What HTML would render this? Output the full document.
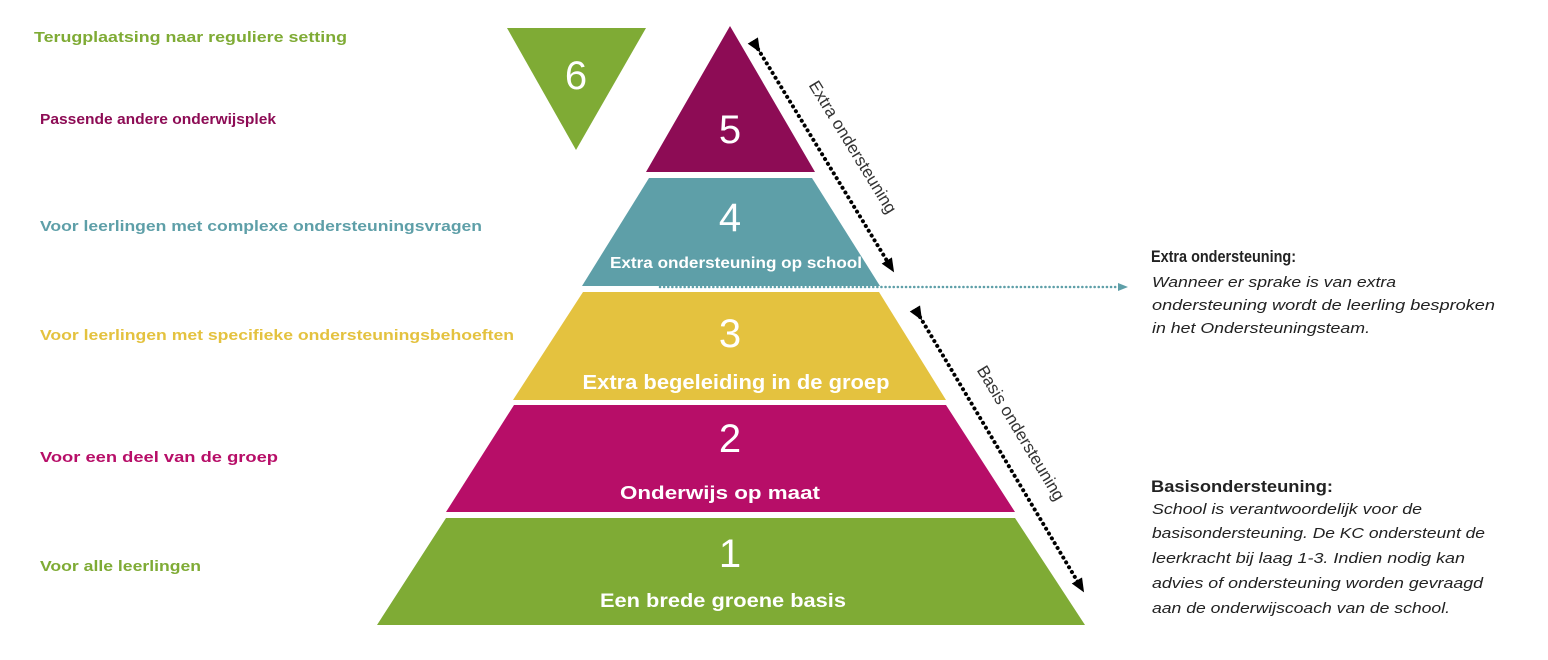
<!DOCTYPE html>
<html><head><meta charset="utf-8"><style>
body{margin:0;background:#fff;}
svg{display:block;}
</style></head><body>
<svg width="1548" height="660" viewBox="0 0 1548 660" xmlns="http://www.w3.org/2000/svg" font-family="Liberation Sans, DejaVu Sans, sans-serif">
<defs>
<marker id="ah2" markerWidth="14" markerHeight="14" refX="10" refY="7" orient="auto" markerUnits="userSpaceOnUse" viewBox="0 0 14 14"><path d="M0,1 L14,7 L0,13 z" fill="#000"/></marker>
<marker id="ab" markerWidth="10" markerHeight="10" refX="8" refY="5" orient="auto" markerUnits="userSpaceOnUse" viewBox="0 0 10 10"><path d="M0,1 L10,5 L0,9 z" fill="#5e9fa8"/></marker>
</defs>
<polygon points="730,26 815,172 646,172" fill="#8d0c55"/>
<polygon points="649,178 812,178 880,286 582,286" fill="#5e9fa8"/>
<polygon points="583,292 879,292 946,400 513,400" fill="#e4c23f"/>
<polygon points="514,405 946,405 1015,512 446,512" fill="#b70e68"/>
<polygon points="446,518 1015,518 1085,625 377,625" fill="#7fab35"/>
<polygon points="507,28 646,28 576,150" fill="#7fab35"/>
<g fill="#fff" text-anchor="middle" font-size="40">
<text x="576" y="89">6</text>
<text x="730" y="143">5</text>
<text x="730" y="231">4</text>
<text x="730" y="347">3</text>
<text x="730" y="452">2</text>
<text x="730" y="567">1</text>
</g>
<g fill="#fff" text-anchor="middle" font-weight="bold">
<text x="736" y="268" font-size="16" textLength="252" lengthAdjust="spacingAndGlyphs">Extra ondersteuning op school</text>
<text x="736" y="389" font-size="20" textLength="307" lengthAdjust="spacingAndGlyphs">Extra begeleiding in de groep</text>
<text x="720" y="499" font-size="18" textLength="200" lengthAdjust="spacingAndGlyphs">Onderwijs op maat</text>
<text x="723" y="607" font-size="19" textLength="246" lengthAdjust="spacingAndGlyphs">Een brede groene basis</text>
</g>
<line x1="758" y1="49" x2="892" y2="269" stroke="#000" stroke-width="4" stroke-linecap="round" stroke-dasharray="0.1 5.5" marker-start="url(#ah2)" marker-end="url(#ah2)"/>
<line x1="920" y1="317" x2="1082" y2="589" stroke="#000" stroke-width="4" stroke-linecap="round" stroke-dasharray="0.1 5.5" marker-start="url(#ah2)" marker-end="url(#ah2)"/>
<line x1="660" y1="287" x2="1126" y2="287" stroke="#5e9fa8" stroke-width="2.5" stroke-linecap="round" stroke-dasharray="0.1 4" marker-end="url(#ab)"/>
<g fill="#333" font-size="17" text-anchor="middle">
<text transform="translate(848,150) rotate(58.5)">Extra ondersteuning</text>
<text transform="translate(1016,436) rotate(59)">Basis  ondersteuning</text>
</g>
<g font-weight="bold" font-size="15">
<text x="34" y="42" fill="#7fab35" textLength="313" lengthAdjust="spacingAndGlyphs">Terugplaatsing naar reguliere setting</text>
<text x="40" y="124" fill="#8d0c55" textLength="236" lengthAdjust="spacingAndGlyphs">Passende andere onderwijsplek</text>
<text x="40" y="231" fill="#5e9fa8" textLength="442" lengthAdjust="spacingAndGlyphs">Voor leerlingen met complexe ondersteuningsvragen</text>
<text x="40" y="340" fill="#e4c23f" textLength="474" lengthAdjust="spacingAndGlyphs">Voor leerlingen met specifieke ondersteuningsbehoeften</text>
<text x="40" y="462" fill="#b70e68" textLength="238" lengthAdjust="spacingAndGlyphs">Voor een deel van de groep</text>
<text x="40" y="571" fill="#7fab35" textLength="161" lengthAdjust="spacingAndGlyphs">Voor alle leerlingen</text>
</g>
<g font-size="15" fill="#222">
<text x="1151" y="262" font-weight="bold" font-size="16.5" textLength="145" lengthAdjust="spacingAndGlyphs">Extra ondersteuning:</text>
<g font-style="italic">
<text x="1152" y="287" textLength="244" lengthAdjust="spacingAndGlyphs">Wanneer er sprake is van extra</text>
<text x="1152" y="310" textLength="343" lengthAdjust="spacingAndGlyphs">ondersteuning  wordt de leerling besproken</text>
<text x="1152" y="333" textLength="218" lengthAdjust="spacingAndGlyphs">in het Ondersteuningsteam.</text>
</g>
<text x="1151" y="492" font-weight="bold" font-size="16.5" textLength="182" lengthAdjust="spacingAndGlyphs">Basisondersteuning:</text>
<g font-style="italic">
<text x="1152" y="514" textLength="270" lengthAdjust="spacingAndGlyphs">School is verantwoordelijk voor de</text>
<text x="1152" y="538" textLength="333" lengthAdjust="spacingAndGlyphs">basisondersteuning. De KC ondersteunt de</text>
<text x="1152" y="563" textLength="313" lengthAdjust="spacingAndGlyphs">leerkracht bij laag 1-3. Indien nodig kan</text>
<text x="1152" y="588" textLength="331" lengthAdjust="spacingAndGlyphs">advies of ondersteuning worden gevraagd</text>
<text x="1152" y="613" textLength="298" lengthAdjust="spacingAndGlyphs">aan de onderwijscoach van de school.</text>
</g>
</g>
</svg>
</body></html>
